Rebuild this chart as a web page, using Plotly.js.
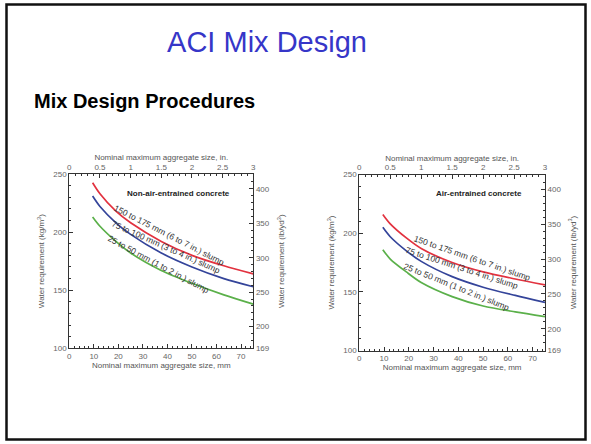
<!DOCTYPE html>
<html>
<head>
<meta charset="utf-8">
<script src="https://cdn.plot.ly/plotly-3.0.1.min.js"></script>
<style>html,body{margin:0;padding:0;background:#fff;}#chart{width:591px;height:444px;}</style>
</head>
<body>
<div id="chart"></div>
<script>
// ---- data ----
const sizesMm = [9.5, 12.5, 19, 25, 37.5, 50, 63, 75];
// Non-air-entrained concrete, water requirement kg/m3
const nonAirSlump150to175 = [242.5, 233, 218, 208, 192, 180, 171, 164];
const nonAirSlump75to100  = [231, 222, 208, 198, 182, 170, 160, 153];
const nonAirSlump25to50   = [213, 205, 192, 182, 167, 156, 146, 138];
// Air-entrained concrete, water requirement kg/m3
const airSlump150to175 = [216, 208, 196, 187, 175, 167, 161, 156];
const airSlump75to100  = [205, 197, 185, 176, 163, 154, 147, 141];
const airSlump25to50   = [186, 178, 167, 158, 146, 138, 133, 129];
const slumpLabels = [
  "150 to 175 mm (6 to 7 in.) slump",
  "75 to 100 mm (3 to 4 in.) slump",
  "25 to 50 mm (1 to 2 in.) slump"
];
const panelTitles = ["Non-air-entrained concrete", "Air-entrained concrete"];
const lbTickVals = [169, 200, 250, 300, 350, 400];

// ---- helpers ----
const W = 591, H = 444;
const px = v => v / W;
const py = v => 1 - v / H;
const colors = ["#e2323f", "#34449a", "#5bb04a"];
const FONT = "Liberation Sans, Arial, sans-serif";
const tickFont = {family: FONT, size: 8, color: "#666"};
const titleFont = {family: FONT, size: 8, color: "#555"};
const KG_TO_LB = 1.6856;

function line(x, y, c, xa, ya) {
  return {x: x, y: y, type: "scatter", mode: "lines", xaxis: xa, yaxis: ya,
    line: {color: c, width: 1.7, shape: "spline", smoothing: 0.8},
    hoverinfo: "skip", showlegend: false};
}
function dummy(xa, ya) {
  return {x: [], y: [], type: "scatter", mode: "lines", xaxis: xa, yaxis: ya, hoverinfo: "skip", showlegend: false};
}

const data = [
  line(sizesMm, nonAirSlump150to175, colors[0], "x", "y"),
  line(sizesMm, nonAirSlump75to100, colors[1], "x", "y"),
  line(sizesMm, nonAirSlump25to50, colors[2], "x", "y"),
  dummy("x2", "y"), dummy("x", "y2"),
  line(sizesMm, airSlump150to175, colors[0], "x3", "y3"),
  line(sizesMm, airSlump75to100, colors[1], "x3", "y3"),
  line(sizesMm, airSlump25to50, colors[2], "x3", "y3"),
  dummy("x4", "y3"), dummy("x3", "y4")
];

const axBase = {showline: true, linecolor: "#333", linewidth: 1, showgrid: false, zeroline: false,
  ticks: "inside", ticklen: 4, tickcolor: "#333", tickfont: tickFont};

function mmAxis(domain, anchor) {
  return Object.assign({}, axBase, {domain: domain, anchor: anchor, range: [0, 75], side: "bottom",
    tickmode: "linear", tick0: 0, dtick: 10,
    minor: {tick0: 0, dtick: 2, ticks: "inside", ticklen: 2, tickcolor: "#333"},
    title: {text: "Nominal maximum aggregate size, mm", font: titleFont, standoff: 0}});
}
function inAxis(over, anchor) {
  return Object.assign({}, axBase, {overlaying: over, anchor: anchor, side: "top", range: [0, 3],
    tickmode: "linear", tick0: 0, dtick: 0.5,
    minor: {tick0: 0, dtick: 0.1, ticks: "inside", ticklen: 2, tickcolor: "#333"},
    title: {text: "Nominal maximum aggregate size, in.", font: titleFont, standoff: 0}});
}
function kgAxis(domain, anchor) {
  return Object.assign({}, axBase, {domain: domain, anchor: anchor, range: [100, 250],
    tickmode: "linear", tick0: 0, dtick: 50,
    minor: {tick0: 0, dtick: 10, ticks: "inside", ticklen: 2, tickcolor: "#333"},
    title: {text: "Water requirement (kg/m<sup>3</sup>)", font: titleFont, standoff: 7}});
}
function lbAxis(over, anchor) {
  return Object.assign({}, axBase, {overlaying: over, anchor: anchor, side: "right",
    range: [100 * KG_TO_LB, 250 * KG_TO_LB], tickmode: "array", tickvals: lbTickVals,
    minor: {tickmode: "linear", tick0: 0, dtick: 10, ticks: "inside", ticklen: 2, tickcolor: "#333"},
    title: {text: "Water requirement (lb/yd<sup>3</sup>)", font: titleFont, standoff: 9}});
}

function curveLabel(text, cx, cy, ang, size) {
  return {text: text, xref: "paper", yref: "paper", x: px(cx), y: py(cy), xanchor: "center", yanchor: "middle",
    textangle: ang, showarrow: false, font: {family: FONT, size: size, color: "#333"}};
}

const annotations = [
  {text: "<b>Mix Design Procedures</b>", xref: "paper", yref: "paper", x: px(32), y: py(101),
   xanchor: "left", yanchor: "middle", showarrow: false, font: {family: FONT, size: 20, color: "#000"}},
  {text: "<b>" + panelTitles[0] + "</b>", xref: "paper", yref: "paper", x: px(178), y: py(193),
   xanchor: "center", yanchor: "middle", showarrow: false, font: {family: FONT, size: 8, color: "#222"}},
  {text: "<b>" + panelTitles[1] + "</b>", xref: "paper", yref: "paper", x: px(479), y: py(193),
   xanchor: "center", yanchor: "middle", showarrow: false, font: {family: FONT, size: 8, color: "#222"}},
  curveLabel(slumpLabels[0], 169, 235, 27, 8.5),
  curveLabel(slumpLabels[1], 166, 247, 24, 8.5),
  curveLabel(slumpLabels[2], 158, 264, 28, 8.5),
  curveLabel(slumpLabels[0], 472, 258, 19, 8.5),
  curveLabel(slumpLabels[1], 462, 268, 18, 8.5),
  curveLabel(slumpLabels[2], 457, 287, 22, 8.5)
];

const layout = {
  width: W, height: H, margin: {l: 0, r: 0, t: 0, b: 0},
  paper_bgcolor: "#fff", plot_bgcolor: "rgba(0,0,0,0)", showlegend: false,
  title: {text: "ACI Mix Design", font: {family: FONT, size: 29, color: "#3636c8"},
          x: px(267), xanchor: "center", y: py(42), yanchor: "middle"},
  xaxis: mmAxis([px(69.3), px(253.3)], "y"),
  xaxis2: inAxis("x", "y"),
  yaxis: kgAxis([py(348.3), py(174)], "x"),
  yaxis2: lbAxis("y", "x"),
  xaxis3: mmAxis([px(359.3), px(545)], "y3"),
  xaxis4: inAxis("x3", "y3"),
  yaxis3: kgAxis([py(350.6), py(174.5)], "x3"),
  yaxis4: lbAxis("y3", "x3"),
  annotations: annotations,
  shapes: [{type: "rect", xref: "paper", yref: "paper", x0: px(6.5), x1: px(585.5), y0: py(439.5), y1: py(4.5),
            line: {color: "#111", width: 2.5}}]
};

Plotly.newPlot("chart", data, layout, {staticPlot: true, displayModeBar: false});
</script>
</body>
</html>
